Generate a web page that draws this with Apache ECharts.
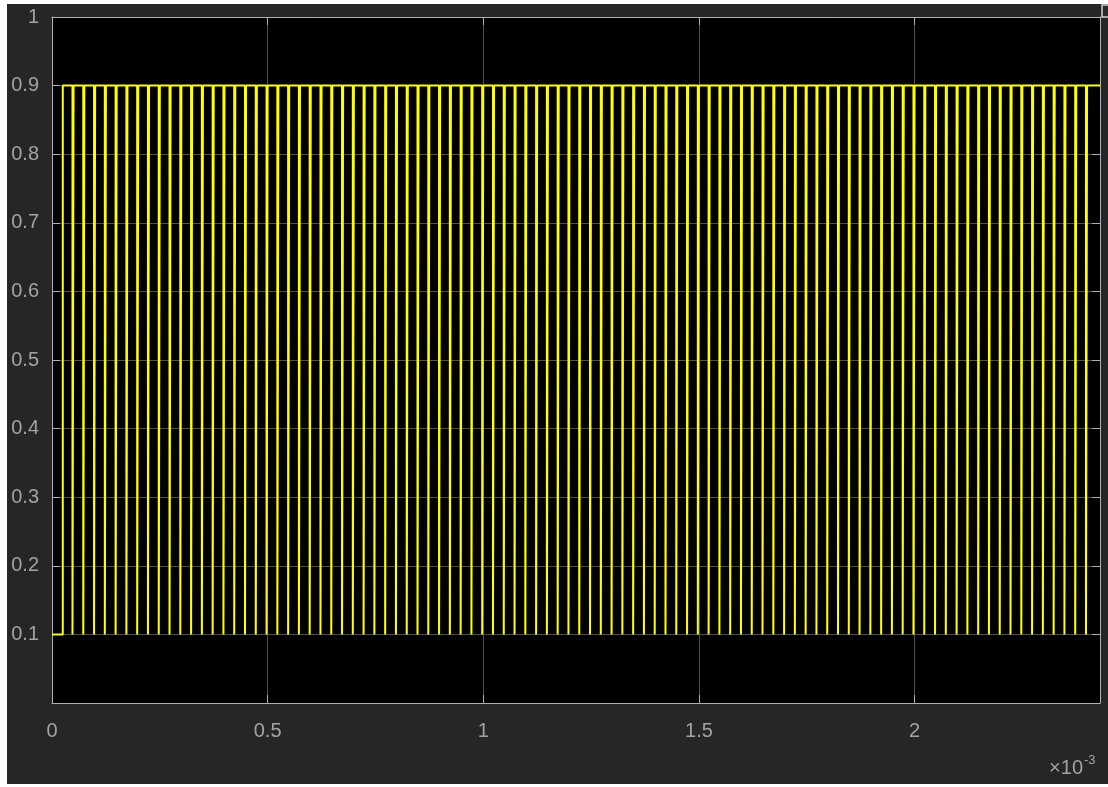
<!DOCTYPE html>
<html>
<head>
<meta charset="utf-8">
<script src="https://cdn.jsdelivr.net/npm/echarts@6/dist/echarts.min.js"></script>
<style>
html,body{margin:0;padding:0;background:#ffffff;}
#chart{width:1108px;height:787px;}
</style>
</head>
<body>
<div id="chart"></div>
<script>
// Signal levels (low / high)
const lowLevel = 0.1;
const highLevel = 0.9;
// Time span shown (microseconds)
const timeStartUs = 0;
const timeEndUs = 2430;
// Rising edges (low -> high), microseconds
const risingEdgesUs = [25,50,75,100,125,150,175,200,225,250,275,300,325,350,375,400,425,450,475,500,525,550,575,600,625,650,675,700,725,750,775,800,825,850,875,900,925,950,975,1000,1025,1050,1075,1100,1125,1150,1175,1200,1225,1250,1275,1300,1325,1350,1375,1400,1425,1450,1475,1500,1525,1550,1575,1600,1625,1650,1675,1700,1725,1750,1775,1800,1825,1850,1875,1900,1925,1950,1975,2000,2025,2050,2075,2100,2125,2150,2175,2200,2225,2250,2275,2300,2325,2350,2375,2400];
// Falling edges (high -> low), microseconds
const fallingEdgesUs = [47.5,72.5,97.5,122.5,147.5,172.5,197.5,222.5,247.5,272.5,297.5,322.5,347.5,372.5,397.5,422.5,447.5,472.5,497.5,522.5,547.5,572.5,597.5,622.5,647.5,672.5,697.5,722.5,747.5,772.5,797.5,822.5,847.5,872.5,897.5,922.5,947.5,972.5,997.5,1022.5,1047.5,1072.5,1097.5,1122.5,1147.5,1172.5,1197.5,1222.5,1247.5,1272.5,1297.5,1322.5,1347.5,1372.5,1397.5,1422.5,1447.5,1472.5,1497.5,1522.5,1547.5,1572.5,1597.5,1622.5,1647.5,1672.5,1697.5,1722.5,1747.5,1772.5,1797.5,1822.5,1847.5,1872.5,1897.5,1922.5,1947.5,1972.5,1997.5,2022.5,2047.5,2072.5,2097.5,2122.5,2147.5,2172.5,2197.5,2222.5,2247.5,2272.5,2297.5,2322.5,2347.5,2372.5,2397.5];
// Axis ticks
const xTicks = [0, 0.5, 1, 1.5, 2];           // x10^-3
const yTickLabels = ['0.1','0.2','0.3','0.4','0.5','0.6','0.7','0.8','0.9','1'];

// Build step waveform (time in ms so axis reads x10^-3 s)
const events = risingEdgesUs.map(t => [t, highLevel])
  .concat(fallingEdgesUs.map(t => [t, lowLevel]))
  .sort((a, b) => a[0] - b[0]);
const waveData = [[timeStartUs / 1000, lowLevel]];
let cur = lowLevel;
events.forEach(([t, lv]) => {
  waveData.push([t / 1000, cur]);
  waveData.push([t / 1000, lv]);
  cur = lv;
});
waveData.push([timeEndUs / 1000, cur]);

const frameColor = '#b0b0b0';
const gridColor = '#4f4f4f';
const labelColor = '#a3a3a3';
const fontFam = '"Liberation Sans", Arial, Helvetica, sans-serif';

const chart = echarts.init(document.getElementById('chart'), null, {renderer: 'canvas'});
const xBase = {
  type: 'value', min: timeStartUs / 1000, max: timeEndUs / 1000, interval: 0.5,
  axisLine: {show: true, onZero: false, lineStyle: {color: frameColor, width: 1}},
  axisTick: {show: true, inside: true, length: 8, lineStyle: {color: frameColor}},
};
const yBase = {
  type: 'value', min: 0, max: 1, interval: 0.1,
  axisLine: {show: true, onZero: false, lineStyle: {color: frameColor, width: 1}},
  axisTick: {show: true, inside: true, length: 8, lineStyle: {color: frameColor}},
};
chart.setOption({
  animation: false,
  backgroundColor: '#262626',
  grid: {left: 52, top: 17, right: 8, bottom: 84, show: true, backgroundColor: '#000000', borderWidth: 0},
  xAxis: [
    Object.assign({}, xBase, {
      position: 'bottom',
      axisLabel: {
        show: true, color: labelColor, fontSize: 20, fontFamily: fontFam, margin: 18,
        showMaxLabel: false,
        formatter: v => (xTicks.indexOf(Math.round(v * 10) / 10) >= 0 ? String(Math.round(v * 10) / 10) : '')
      },
      splitLine: {show: true, lineStyle: {color: gridColor, width: 1}}
    }),
    Object.assign({}, xBase, {
      position: 'top', axisLabel: {show: false}, splitLine: {show: false}
    })
  ],
  yAxis: [
    Object.assign({}, yBase, {
      position: 'left',
      axisLabel: {
        show: true, color: labelColor, fontSize: 20, fontFamily: fontFam, margin: 13,
        padding: [7, 0, 0, 0],
        formatter: v => {
          const i = Math.round(v * 10) - 1;
          return i >= 0 && i < yTickLabels.length ? yTickLabels[i] : '';
        }
      },
      splitLine: {show: true, lineStyle: {color: gridColor, width: 1}}
    }),
    Object.assign({}, yBase, {
      position: 'right', axisLabel: {show: false}, splitLine: {show: false}
    })
  ],
  series: [{
    type: 'line',
    data: waveData,
    showSymbol: false,
    symbol: 'none',
    lineStyle: {color: '#ffff00', width: 2},
    clip: true,
    z: 3
  }],
  graphic: [
    {type: 'rect', left: 0, top: 0, shape: {width: 7, height: 787}, style: {fill: '#ffffff'}, silent: true},
    {type: 'rect', left: 0, top: 0, shape: {width: 1108, height: 4}, style: {fill: '#ffffff'}, silent: true},
    {type: 'rect', left: 0, top: 784, shape: {width: 1108, height: 3}, style: {fill: '#ffffff'}, silent: true},
    {type: 'rect', x: 1102, y: 5, shape: {width: 8, height: 12}, style: {fill: '#2a2a2a', stroke: '#d0d0d0', lineWidth: 1.5}, silent: true},
    {type: 'text', x: 1083, y: 778, style: {text: '×10', fill: labelColor, font: '20px ' + fontFam, textAlign: 'right', textVerticalAlign: 'bottom'}},
    {type: 'text', x: 1084, y: 754, style: {text: '-3', fill: labelColor, font: '13px ' + fontFam, textAlign: 'left', textVerticalAlign: 'top'}}
  ]
});
</script>
</body>
</html>
